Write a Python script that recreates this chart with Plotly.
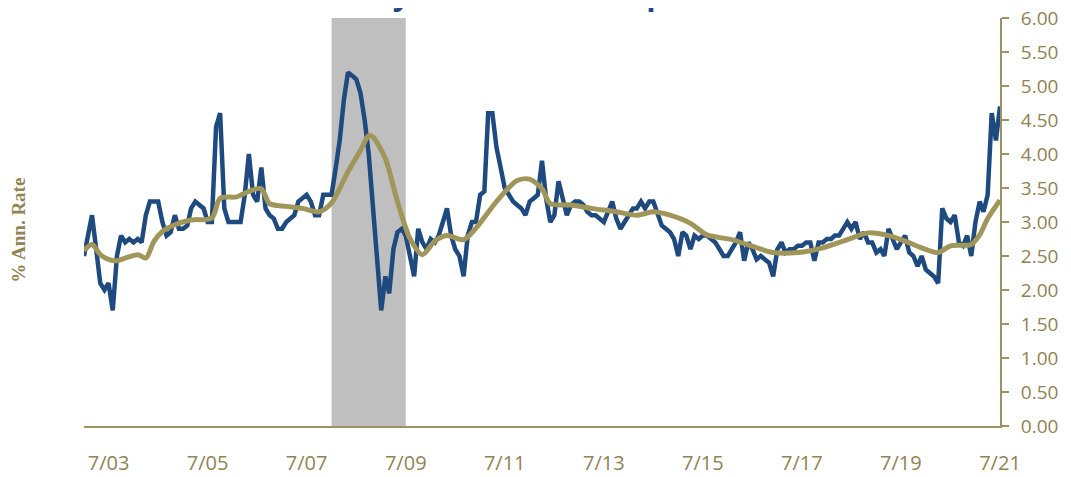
import plotly.graph_objects as go

# ---------------- data ----------------
start_year = 2003
blue_2003 = [2.5, 2.8, 3.1, 2.6, 2.1, 2.0, 2.1, 1.7, 2.5, 2.8, 2.7, 2.75]
blue_2004 = [2.7, 2.75, 2.7, 3.1, 3.3, 3.3, 3.3, 3.0, 2.8, 2.85, 3.1, 2.9]
blue_2005 = [2.9, 2.95, 3.2, 3.3, 3.25, 3.2, 3.0, 3.0, 4.4, 4.6, 3.2, 3.0]
blue_2006 = [3.0, 3.0, 3.0, 3.4, 4.0, 3.4, 3.3, 3.8, 3.2, 3.1, 3.05, 2.9]
blue_2007 = [2.9, 3.0, 3.05, 3.1, 3.3, 3.35, 3.4, 3.3, 3.1, 3.1, 3.4, 3.4]
blue_2008 = [3.4, 3.8, 4.2, 4.8, 5.2, 5.15, 5.1, 4.9, 4.5, 4.0, 3.2, 2.3]
blue_2009 = [1.7, 2.2, 1.95, 2.6, 2.85, 2.9, 2.8, 2.5, 2.2, 2.9, 2.7, 2.6]
blue_2010 = [2.75, 2.7, 2.8, 3.0, 3.2, 2.8, 2.6, 2.5, 2.2, 2.8, 3.0, 3.0]
blue_2011 = [3.4, 3.45, 4.6, 4.6, 4.1, 3.8, 3.5, 3.4, 3.3, 3.25, 3.2, 3.1]
blue_2012 = [3.3, 3.35, 3.4, 3.9, 3.35, 3.0, 3.1, 3.6, 3.35, 3.1, 3.25, 3.3]
blue_2013 = [3.3, 3.25, 3.15, 3.1, 3.1, 3.05, 3.0, 3.15, 3.3, 3.05, 2.9, 3.0]
blue_2014 = [3.1, 3.2, 3.2, 3.3, 3.2, 3.3, 3.3, 3.1, 2.95, 2.9, 2.85, 2.75]
blue_2015 = [2.5, 2.85, 2.8, 2.6, 2.8, 2.75, 2.8, 2.8, 2.75, 2.7, 2.6, 2.5]
blue_2016 = [2.5, 2.6, 2.7, 2.85, 2.43, 2.7, 2.6, 2.45, 2.5, 2.45, 2.4, 2.2]
blue_2017 = [2.6, 2.7, 2.55, 2.6, 2.6, 2.65, 2.65, 2.7, 2.7, 2.43, 2.7, 2.7]
blue_2018 = [2.75, 2.75, 2.8, 2.8, 2.9, 3.0, 2.9, 3.0, 2.75, 2.85, 2.7, 2.7]
blue_2019 = [2.55, 2.6, 2.5, 2.9, 2.75, 2.6, 2.7, 2.8, 2.55, 2.5, 2.35, 2.5]
blue_2020 = [2.3, 2.25, 2.2, 2.1, 3.2, 3.05, 3.0, 3.1, 2.7, 2.65, 2.8, 2.5]
blue_2021 = [3.0, 3.3, 3.15, 3.4, 4.6, 4.2, 4.7]

gold_dates = ["2003-01-01", "2003-03-01", "2003-05-01", "2003-07-01", "2003-09-01", "2003-11-01",
              "2004-02-01", "2004-04-01", "2004-06-01", "2004-08-01", "2004-11-01",
              "2005-03-01", "2005-08-01", "2005-10-01",
              "2006-02-01", "2006-05-01", "2006-08-01", "2006-10-01",
              "2007-02-01", "2007-06-01", "2007-10-01",
              "2008-01-01", "2008-05-01", "2008-08-01", "2008-10-01", "2008-11-01",
              "2009-02-01", "2009-05-01", "2009-08-01", "2009-11-01",
              "2010-02-01", "2010-05-01", "2010-09-01", "2010-12-01",
              "2011-05-01", "2011-10-01",
              "2012-01-01", "2012-04-01", "2012-06-01", "2012-11-01",
              "2013-04-01", "2013-10-01",
              "2014-03-01", "2014-07-01", "2014-11-01",
              "2015-04-01", "2015-08-01",
              "2016-02-01", "2016-09-01", "2016-12-01",
              "2017-06-01", "2017-12-01",
              "2018-06-01", "2018-11-01",
              "2019-04-01", "2019-08-01", "2019-12-01",
              "2020-04-01", "2020-07-01", "2020-12-01",
              "2021-02-01", "2021-04-01", "2021-07-01"]
gold_vals = [2.58, 2.67, 2.52, 2.45, 2.43, 2.47,
             2.52, 2.47, 2.72, 2.86, 2.96,
             3.03, 3.06, 3.35,
             3.37, 3.45, 3.49, 3.27,
             3.23, 3.2, 3.15,
             3.28, 3.74, 4.05, 4.27, 4.25,
             3.93, 3.3, 2.76, 2.52,
             2.72, 2.8, 2.74, 2.91,
             3.3, 3.61,
             3.63, 3.49, 3.27, 3.25,
             3.2, 3.15,
             3.1, 3.15, 3.1,
             2.98, 2.81,
             2.74, 2.6, 2.55,
             2.55, 2.62,
             2.74, 2.84,
             2.8, 2.72, 2.62,
             2.55, 2.65, 2.67,
             2.81, 3.05, 3.32]

recession = ("2008-01-01", "2009-07-01")
tick_years = [2003, 2005, 2007, 2009, 2011, 2013, 2015, 2017, 2019, 2021]
tick_labels = ["7/03", "7/05", "7/07", "7/09", "7/11", "7/13", "7/15", "7/17", "7/19", "7/21"]
y_ticks = [0, 0.5, 1, 1.5, 2, 2.5, 3, 3.5, 4, 4.5, 5, 5.5, 6]
title_text = "1-year Inflation Expectations"
y_title = "% Ann. Rate"

# ---------------- build ----------------
blue_vals = (blue_2003 + blue_2004 + blue_2005 + blue_2006 + blue_2007 + blue_2008 + blue_2009 +
             blue_2010 + blue_2011 + blue_2012 + blue_2013 + blue_2014 + blue_2015 + blue_2016 +
             blue_2017 + blue_2018 + blue_2019 + blue_2020 + blue_2021)
blue_dates = []
for i in range(len(blue_vals)):
    yr = start_year + i // 12
    mo = i % 12 + 1
    blue_dates.append(f"{yr}-{mo:02d}-01")

BLUE = "#1F4A80"
GOLD = "#A0965A"
GOLD_TXT = "#8F8452"
AXIS = "#9C9262"

fig = go.Figure()
fig.add_trace(go.Scatter(x=blue_dates, y=blue_vals, mode="lines",
                         line=dict(color=BLUE, width=4.5), showlegend=False, hoverinfo="skip"))
fig.add_trace(go.Scatter(x=gold_dates, y=gold_vals, mode="lines",
                         line=dict(color=GOLD, width=5, shape="spline", smoothing=0.8),
                         showlegend=False, hoverinfo="skip"))

fig.add_shape(type="rect", xref="x", yref="paper", x0=recession[0], x1=recession[1],
              y0=0, y1=1, fillcolor="#BFBFBF", line=dict(width=0), layer="below")

fig.add_annotation(text=y_title, xref="paper", yref="paper", x=-0.0715, xanchor="center",
                   y=0.48, yanchor="middle", textangle=-90, showarrow=False,
                   font=dict(family="Liberation Serif", size=19, color=GOLD_TXT, weight="bold"))

fig.add_annotation(text="<b>" + title_text + "</b>", xref="paper", yref="paper",
                   x=(363 - 84) / 916, xanchor="left", y=1.006, yanchor="bottom",
                   showarrow=False,
                   font=dict(family="Open Sans", size=31, color=BLUE))

fig.update_layout(
    width=1063, height=469,
    margin=dict(l=76, r=71, t=10, b=51, autoexpand=False),
    paper_bgcolor="white", plot_bgcolor="white",
    xaxis=dict(type="date", range=["2003-01-01", "2021-07-01"], automargin=False,
               tickvals=[f"{y}-07-01" for y in tick_years], ticktext=tick_labels,
               showgrid=False, zeroline=False, showline=True, linecolor=AXIS, linewidth=2,
               ticks="", ticklabelstandoff=18, ticklabeloverflow="allow",
               tickfont=dict(family="Open Sans", size=20, color=GOLD_TXT)),
    yaxis=dict(side="right", range=[0, 6], tickvals=y_ticks, tickformat=".2f", automargin=False,
               showgrid=False, zeroline=False, showline=True, linecolor=AXIS, linewidth=2,
               ticks="outside", ticklen=7, tickwidth=2, tickcolor=AXIS, ticklabelstandoff=8,
               ticklabeloverflow="allow",
               tickfont=dict(family="Open Sans", size=19, color=GOLD_TXT)),
)

fig.write_html("out.html")
